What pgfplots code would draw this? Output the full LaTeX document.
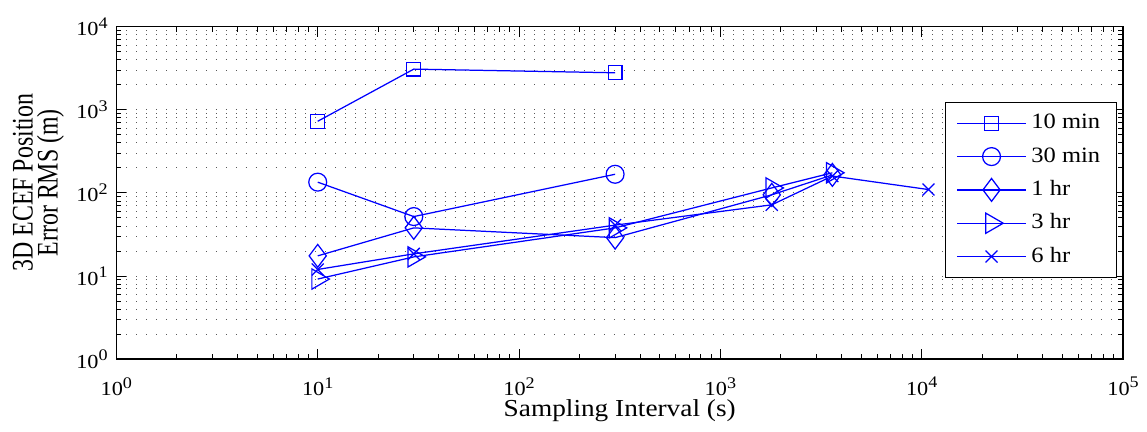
\documentclass[border=0pt]{standalone}
\usepackage{pgfplots}
\pgfplotsset{compat=1.18}
\usepackage{fontspec}
\setmainfont{Liberation Serif}[FakeStretch=1.12]
\newfontfamily\rotfont{Liberation Serif}[FakeStretch=0.8]
\definecolor{mblue}{RGB}{0,0,255}
\newcommand{\tl}[1]{10\raisebox{3pt}{\fontsize{6.5pt}{7pt}\selectfont #1}}
\begin{document}
\begin{tikzpicture}
\begin{axis}[
  scale only axis,
  width=404.8pt, height=133.6pt,
  xmode=log, ymode=log,
  xmin=1, xmax=100000, ymin=1, ymax=10000,
  xtick={1,10,100,1000,10000,100000},
  xticklabels={\tl{0},\tl{1},\tl{2},\tl{3},\tl{4},\tl{5}},
  minor xtick={2,3,4,5,6,7,8,9,20,30,40,50,60,70,80,90,200,300,400,500,600,700,800,900,2000,3000,4000,5000,6000,7000,8000,9000,20000,30000,40000,50000,60000,70000,80000,90000},
  ytick={1,10,100,1000,10000},
  yticklabels={\tl{0},\tl{1},\tl{2},\tl{3},\tl{4}},
  minor ytick={2,3,4,5,6,7,8,9,20,30,40,50,60,70,80,90,200,300,400,500,600,700,800,900,2000,3000,4000,5000,6000,7000,8000,9000},
  tick label style={font=\fontsize{8pt}{9pt}\selectfont},
  xticklabel style={yshift=-3.8pt},
  xlabel={Sampling Interval (s)},
  xlabel style={font=\fontsize{9.8pt}{11pt}\selectfont, at={(axis description cs:0.5,0)}, anchor=base, yshift=-23pt},
  ylabel={3D ECEF Position\\Error RMS (m)},
  ylabel style={font=\rotfont\fontsize{12pt}{10pt}\selectfont, align=center, at={(axis description cs:-0.0775,0.531)}, anchor=center},
  tick align=inside,
  xtick pos=both, ytick pos=both,
  major tick length=4pt, minor tick length=2pt,
  every tick/.style={black, line width=0.4pt},
  ymajorgrids, yminorgrids,
  major grid style={black!65, line width=0.4pt, dash pattern=on 0.4pt off 3.6pt},
  minor grid style={black!65, line width=0.4pt, dash pattern=on 0.4pt off 3.6pt},
  axis line style={black, line width=0.5pt},
  legend style={at={(0.994,0.775)}, anchor=north east, draw=black, fill=white, line width=0.5pt,
    font=\fontsize{8.8pt}{10pt}\selectfont, row sep=1.9pt, inner xsep=4.5pt, inner ysep=2.7pt,
    nodes={inner sep=2pt, text height=6pt, text depth=1.5pt},
    cells={anchor=west}},
  legend image code/.code={\draw[#1, mark repeat=2, mark phase=2] plot coordinates {(0pt,0pt) (13.8pt,0pt) (27.6pt,0pt)};},
]
\addplot[mblue, line width=0.5pt, mark=square, mark size=2.8pt, mark options={solid, fill=none}] coordinates {(10,730) (30,3100) (300,2800)};
\addlegendentry{10 min}
\addplot[mblue, line width=0.5pt, mark=o, mark size=3.6pt, mark options={solid, fill=none}] coordinates {(10,135) (30,52) (300,168)};
\addlegendentry{30 min}
\addplot[mblue, line width=0.5pt, mark=diamond, mark size=4.6pt, mark options={solid, fill=none}] coordinates {(10,17.5) (30,38) (300,29) (1800,95) (3600,165)};
\addlegendentry{1 hr}
\addplot[mblue, line width=0.5pt, mark=triangle, mark size=4.7pt, mark options={solid, fill=none, rotate=-90}] coordinates {(10,9.2) (30,17) (300,38) (1800,115) (3600,175)};
\addlegendentry{3 hr}
\addplot[mblue, line width=0.5pt, mark=x, mark size=3.4pt, mark options={solid}] coordinates {(10,12) (30,18.5) (300,41) (1800,72) (3600,160) (10800,110)};
\addlegendentry{6 hr}
\end{axis}
\path (current axis.south west) ++(-46.8pt,-29.2pt) rectangle ++(458.8pt,173.6pt);
\end{tikzpicture}
\end{document}
